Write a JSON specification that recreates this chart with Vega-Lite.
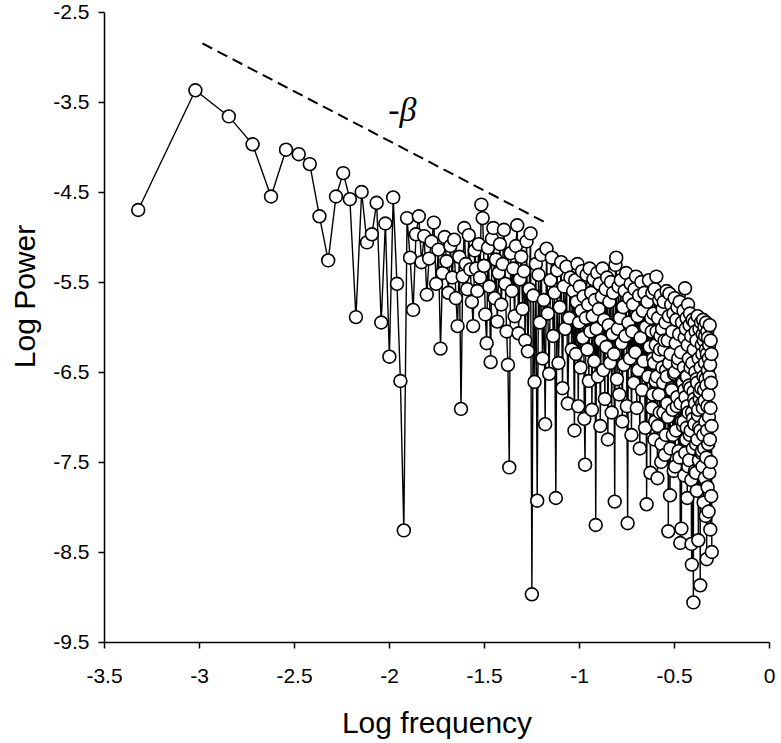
{
"$schema": "https://vega.github.io/schema/vega-lite/v6.json",
"width": 665, "height": 630,
"autosize": {"type": "none"},
"padding": {"left": 104, "top": 12, "right": 12, "bottom": 101},
"background": "white",
"config": {
 "view": {"stroke": null},
 "axis": {"domainColor": "black", "domainWidth": 1.5, "tickColor": "black", "tickWidth": 1.5, "tickSize": 6, "grid": false,
  "labelFont": "Liberation Sans", "labelFontSize": 21, "labelColor": "black", "labelFlush": false, "labelOverlap": false, "labelBound": false,
  "titleFont": "Liberation Sans", "titleFontSize": 30, "titleFontWeight": "normal", "titleColor": "black"}
},
"data": {"values": [
{"x":-3.320,"y":-4.70},{"x":-3.019,"y":-3.37},{"x":-2.843,"y":-3.66},{"x":-2.718,"y":-3.97},{"x":-2.621,"y":-4.55},
{"x":-2.542,"y":-4.03},{"x":-2.475,"y":-4.08},{"x":-2.417,"y":-4.19},{"x":-2.366,"y":-4.77},{"x":-2.320,"y":-5.26},
{"x":-2.279,"y":-4.55},{"x":-2.241,"y":-4.29},{"x":-2.206,"y":-4.58},{"x":-2.174,"y":-5.89},{"x":-2.144,"y":-4.50},
{"x":-2.116,"y":-5.06},{"x":-2.090,"y":-4.97},{"x":-2.065,"y":-4.62},{"x":-2.041,"y":-5.95},{"x":-2.019,"y":-4.85},
{"x":-1.998,"y":-6.33},{"x":-1.978,"y":-4.56},{"x":-1.958,"y":-5.52},{"x":-1.940,"y":-6.60},{"x":-1.922,"y":-8.26},
{"x":-1.905,"y":-4.79},{"x":-1.889,"y":-5.23},{"x":-1.873,"y":-5.81},{"x":-1.858,"y":-4.97},{"x":-1.843,"y":-4.77},
{"x":-1.829,"y":-5.28},{"x":-1.815,"y":-4.99},{"x":-1.801,"y":-5.64},{"x":-1.789,"y":-5.24},{"x":-1.776,"y":-5.05},
{"x":-1.764,"y":-4.84},{"x":-1.752,"y":-5.52},{"x":-1.740,"y":-5.14},{"x":-1.729,"y":-6.24},{"x":-1.718,"y":-5.40},
{"x":-1.707,"y":-5.00},{"x":-1.697,"y":-5.27},{"x":-1.687,"y":-5.62},{"x":-1.677,"y":-5.10},{"x":-1.667,"y":-5.45},
{"x":-1.657,"y":-5.03},{"x":-1.648,"y":-5.68},{"x":-1.639,"y":-5.99},{"x":-1.630,"y":-5.22},{"x":-1.621,"y":-6.91},
{"x":-1.612,"y":-5.44},{"x":-1.604,"y":-4.90},{"x":-1.596,"y":-5.30},{"x":-1.588,"y":-5.58},{"x":-1.580,"y":-4.98},
{"x":-1.572,"y":-5.36},{"x":-1.564,"y":-5.72},{"x":-1.557,"y":-5.99},{"x":-1.549,"y":-5.15},{"x":-1.542,"y":-5.35},
{"x":-1.535,"y":-5.60},{"x":-1.528,"y":-5.08},{"x":-1.521,"y":-5.45},{"x":-1.514,"y":-4.64},{"x":-1.507,"y":-4.79},
{"x":-1.500,"y":-5.32},{"x":-1.493,"y":-5.86},{"x":-1.486,"y":-6.18},{"x":-1.479,"y":-5.12},{"x":-1.472,"y":-5.55},
{"x":-1.465,"y":-6.39},{"x":-1.458,"y":-5.02},{"x":-1.451,"y":-4.90},{"x":-1.444,"y":-5.68},{"x":-1.437,"y":-5.25},
{"x":-1.430,"y":-5.94},{"x":-1.423,"y":-5.40},{"x":-1.416,"y":-5.08},{"x":-1.409,"y":-5.75},{"x":-1.402,"y":-5.30},
{"x":-1.395,"y":-4.92},{"x":-1.388,"y":-5.52},{"x":-1.381,"y":-6.05},{"x":-1.374,"y":-6.42},{"x":-1.367,"y":-7.56},
{"x":-1.360,"y":-5.18},{"x":-1.353,"y":-5.60},{"x":-1.346,"y":-5.35},{"x":-1.339,"y":-5.88},{"x":-1.332,"y":-5.10},
{"x":-1.325,"y":-4.87},{"x":-1.318,"y":-6.07},{"x":-1.311,"y":-5.47},{"x":-1.304,"y":-5.22},{"x":-1.297,"y":-5.80},
{"x":-1.290,"y":-5.38},{"x":-1.283,"y":-6.15},{"x":-1.276,"y":-5.05},{"x":-1.269,"y":-6.27},{"x":-1.262,"y":-5.58},
{"x":-1.255,"y":-4.96},{"x":-1.248,"y":-8.97},{"x":-1.241,"y":-5.65},{"x":-1.234,"y":-6.61},{"x":-1.227,"y":-5.30},
{"x":-1.220,"y":-7.93},{"x":-1.213,"y":-5.42},{"x":-1.206,"y":-5.95},{"x":-1.199,"y":-5.20},{"x":-1.192,"y":-6.35},
{"x":-1.185,"y":-5.70},{"x":-1.178,"y":-7.08},{"x":-1.171,"y":-5.13},{"x":-1.164,"y":-5.85},{"x":-1.157,"y":-6.52},
{"x":-1.150,"y":-5.48},{"x":-1.143,"y":-5.23},{"x":-1.136,"y":-6.10},{"x":-1.129,"y":-5.62},{"x":-1.122,"y":-7.90},
{"x":-1.115,"y":-5.37},{"x":-1.108,"y":-6.40},{"x":-1.101,"y":-5.78},{"x":-1.094,"y":-5.28},{"x":-1.087,"y":-6.68},
{"x":-1.080,"y":-5.55},{"x":-1.073,"y":-6.02},{"x":-1.066,"y":-5.33},{"x":-1.059,"y":-6.85},{"x":-1.052,"y":-5.90},
{"x":-1.045,"y":-5.45},{"x":-1.038,"y":-6.25},{"x":-1.031,"y":-5.60},{"x":-1.024,"y":-7.15},
{"x":-1.020,"y":-5.48},{"x":-1.016,"y":-6.30},{"x":-1.012,"y":-5.72},{"x":-1.008,"y":-5.30},{"x":-1.004,"y":-6.88},
{"x":-1.000,"y":-5.95},{"x":-0.996,"y":-5.55},{"x":-0.992,"y":-6.45},{"x":-0.988,"y":-5.82},{"x":-0.984,"y":-5.38},
{"x":-0.980,"y":-6.12},{"x":-0.976,"y":-5.66},{"x":-0.972,"y":-7.02},{"x":-0.968,"y":-7.53},{"x":-0.964,"y":-5.90},
{"x":-0.960,"y":-5.42},{"x":-0.956,"y":-6.25},{"x":-0.952,"y":-5.75},{"x":-0.948,"y":-6.60},{"x":-0.944,"y":-5.35},
{"x":-0.940,"y":-6.05},{"x":-0.936,"y":-5.62},{"x":-0.932,"y":-6.92},{"x":-0.928,"y":-5.88},{"x":-0.924,"y":-5.47},
{"x":-0.920,"y":-6.38},{"x":-0.916,"y":-5.70},{"x":-0.912,"y":-8.20},{"x":-0.908,"y":-6.02},{"x":-0.904,"y":-5.40},
{"x":-0.900,"y":-6.55},{"x":-0.896,"y":-5.80},{"x":-0.892,"y":-5.52},{"x":-0.888,"y":-7.10},{"x":-0.884,"y":-6.15},
{"x":-0.880,"y":-5.66},{"x":-0.876,"y":-5.35},{"x":-0.872,"y":-6.48},{"x":-0.868,"y":-5.92},{"x":-0.864,"y":-6.80},
{"x":-0.860,"y":-5.58},{"x":-0.856,"y":-6.22},{"x":-0.852,"y":-5.45},{"x":-0.848,"y":-7.25},{"x":-0.844,"y":-5.98},
{"x":-0.840,"y":-5.72},{"x":-0.836,"y":-6.40},{"x":-0.832,"y":-5.50},{"x":-0.828,"y":-6.95},{"x":-0.824,"y":-6.08},
{"x":-0.820,"y":-5.62},{"x":-0.816,"y":-6.30},{"x":-0.812,"y":-7.94},{"x":-0.808,"y":-5.31},{"x":-0.804,"y":-5.23},
{"x":-0.800,"y":-6.58},{"x":-0.796,"y":-6.02},{"x":-0.792,"y":-5.55},{"x":-0.788,"y":-6.75},{"x":-0.784,"y":-5.90},
{"x":-0.780,"y":-5.48},{"x":-0.776,"y":-6.18},{"x":-0.772,"y":-7.05},{"x":-0.768,"y":-5.78},{"x":-0.764,"y":-6.42},
{"x":-0.760,"y":-5.60},{"x":-0.756,"y":-6.10},{"x":-0.752,"y":-5.40},{"x":-0.748,"y":-6.88},{"x":-0.744,"y":-8.18},
{"x":-0.740,"y":-5.95},{"x":-0.736,"y":-5.68},{"x":-0.732,"y":-6.35},{"x":-0.728,"y":-5.52},{"x":-0.724,"y":-7.20},
{"x":-0.720,"y":-6.05},{"x":-0.716,"y":-5.75},{"x":-0.712,"y":-6.62},{"x":-0.708,"y":-5.58},{"x":-0.704,"y":-6.28},
{"x":-0.700,"y":-5.44},{"x":-0.696,"y":-6.90},{"x":-0.692,"y":-5.88},{"x":-0.688,"y":-6.48},{"x":-0.684,"y":-5.65},
{"x":-0.680,"y":-7.35},{"x":-0.676,"y":-6.12},{"x":-0.672,"y":-5.50},{"x":-0.668,"y":-6.70},{"x":-0.664,"y":-5.82},
{"x":-0.660,"y":-6.38},{"x":-0.656,"y":-5.62},{"x":-0.652,"y":-7.12},{"x":-0.648,"y":-6.00},{"x":-0.644,"y":-7.97},
{"x":-0.640,"y":-5.72},{"x":-0.636,"y":-6.55},{"x":-0.632,"y":-5.48},{"x":-0.628,"y":-6.22},{"x":-0.624,"y":-7.62},
{"x":-0.620,"y":-5.90},
{"x":-0.617,"y":-6.05},{"x":-0.6155,"y":-6.90},{"x":-0.614,"y":-5.62},{"x":-0.611,"y":-6.75},{"x":-0.6095,"y":-6.35},{"x":-0.608,"y":-5.85},{"x":-0.605,"y":-6.40},{"x":-0.6035,"y":-7.25},
{"x":-0.602,"y":-5.58},{"x":-0.599,"y":-7.05},{"x":-0.5975,"y":-6.60},{"x":-0.596,"y":-6.20},{"x":-0.593,"y":-5.44},{"x":-0.5915,"y":-6.05},{"x":-0.590,"y":-6.55},
{"x":-0.587,"y":-7.68},{"x":-0.5855,"y":-7.10},{"x":-0.584,"y":-5.90},{"x":-0.581,"y":-6.32},{"x":-0.5795,"y":-6.75},{"x":-0.578,"y":-5.70},{"x":-0.575,"y":-6.95},{"x":-0.5735,"y":-6.25},
{"x":-0.572,"y":-6.10},{"x":-0.569,"y":-5.65},{"x":-0.5675,"y":-7.50},{"x":-0.566,"y":-7.30},{"x":-0.563,"y":-6.02},{"x":-0.5615,"y":-6.45},{"x":-0.560,"y":-5.80},
{"x":-0.557,"y":-6.62},{"x":-0.5555,"y":-6.95},{"x":-0.554,"y":-5.72},{"x":-0.551,"y":-6.25},{"x":-0.5495,"y":-6.15},{"x":-0.548,"y":-7.42},{"x":-0.545,"y":-5.95},{"x":-0.5435,"y":-7.20},
{"x":-0.542,"y":-6.48},{"x":-0.539,"y":-5.60},{"x":-0.5375,"y":-6.55},{"x":-0.536,"y":-6.85},{"x":-0.533,"y":-6.15},{"x":-0.5315,"y":-7.00},{"x":-0.530,"y":-8.27},
{"x":-0.527,"y":-5.88},{"x":-0.5255,"y":-6.40},{"x":-0.524,"y":-5.63},{"x":-0.521,"y":-7.87},{"x":-0.5195,"y":-7.35},{"x":-0.518,"y":-6.30},{"x":-0.515,"y":-5.75},{"x":-0.5135,"y":-6.68},
{"x":-0.512,"y":-6.70},{"x":-0.509,"y":-6.05},{"x":-0.5075,"y":-6.92},{"x":-0.506,"y":-7.20},{"x":-0.503,"y":-5.85},{"x":-0.5015,"y":-7.60},{"x":-0.500,"y":-6.52},
{"x":-0.497,"y":-5.68},{"x":-0.4955,"y":-6.50},{"x":-0.494,"y":-7.55},{"x":-0.491,"y":-6.18},{"x":-0.4895,"y":-7.15},{"x":-0.488,"y":-5.92},{"x":-0.485,"y":-6.88},{"x":-0.4835,"y":-6.78},
{"x":-0.482,"y":-5.78},{"x":-0.479,"y":-6.40},{"x":-0.4775,"y":-6.35},{"x":-0.476,"y":-7.38},{"x":-0.473,"y":-6.08},{"x":-0.4715,"y":-7.45},{"x":-0.470,"y":-5.72},
{"x":-0.467,"y":-8.40},{"x":-0.4655,"y":-6.85},{"x":-0.464,"y":-6.28},{"x":-0.461,"y":-8.24},{"x":-0.4595,"y":-7.05},{"x":-0.458,"y":-5.95},{"x":-0.455,"y":-6.60},{"x":-0.4535,"y":-6.62},
{"x":-0.452,"y":-7.10},
{"x":-0.450,"y":-5.82},{"x":-0.449,"y":-7.05},{"x":-0.448,"y":-6.45},{"x":-0.446,"y":-7.65},{"x":-0.445,"y":-6.70},{"x":-0.444,"y":-6.12},{"x":-0.442,"y":-5.57},{"x":-0.441,"y":-7.40},
{"x":-0.440,"y":-6.78},{"x":-0.438,"y":-6.02},{"x":-0.437,"y":-6.55},{"x":-0.436,"y":-7.25},{"x":-0.434,"y":-5.90},{"x":-0.433,"y":-7.12},{"x":-0.432,"y":-6.55},
{"x":-0.430,"y":-7.90},{"x":-0.429,"y":-6.88},{"x":-0.428,"y":-6.20},{"x":-0.426,"y":-5.75},{"x":-0.425,"y":-7.55},{"x":-0.424,"y":-6.95},{"x":-0.422,"y":-6.35},{"x":-0.421,"y":-6.65},
{"x":-0.420,"y":-7.48},{"x":-0.418,"y":-5.98},{"x":-0.417,"y":-7.20},{"x":-0.416,"y":-5.85},{"x":-0.414,"y":-6.68},{"x":-0.413,"y":-6.45},{"x":-0.412,"y":-7.15},
{"x":-0.410,"y":-6.10},{"x":-0.409,"y":-7.70},{"x":-0.408,"y":-8.41},{"x":-0.406,"y":-8.64},{"x":-0.405,"y":-6.95},{"x":-0.404,"y":-6.40},{"x":-0.402,"y":-5.92},{"x":-0.401,"y":-7.35},
{"x":-0.400,"y":-7.02},{"x":-0.398,"y":-9.06},{"x":-0.397,"y":-6.72},{"x":-0.396,"y":-6.25},{"x":-0.394,"y":-6.80},{"x":-0.393,"y":-7.08},{"x":-0.392,"y":-5.95},
{"x":-0.390,"y":-7.60},{"x":-0.389,"y":-6.85},{"x":-0.388,"y":-6.50},{"x":-0.386,"y":-6.05},{"x":-0.385,"y":-7.62},{"x":-0.384,"y":-7.30},{"x":-0.382,"y":-6.15},{"x":-0.381,"y":-6.58},
{"x":-0.380,"y":-7.82},{"x":-0.378,"y":-6.62},{"x":-0.377,"y":-7.25},{"x":-0.376,"y":-5.88},{"x":-0.374,"y":-6.98},{"x":-0.373,"y":-6.92},{"x":-0.372,"y":-8.37},
{"x":-0.370,"y":-6.35},{"x":-0.369,"y":-7.48},{"x":-0.368,"y":-7.12},{"x":-0.366,"y":-6.02},{"x":-0.365,"y":-6.80},{"x":-0.364,"y":-6.72},{"x":-0.362,"y":-8.87},{"x":-0.361,"y":-7.15},
{"x":-0.360,"y":-6.45},{"x":-0.358,"y":-5.95},{"x":-0.357,"y":-6.68},{"x":-0.356,"y":-7.40},{"x":-0.354,"y":-6.20},{"x":-0.353,"y":-7.38},{"x":-0.352,"y":-6.85},
{"x":-0.351,"y":-6.30},{"x":-0.350,"y":-7.55},{"x":-0.349,"y":-6.08},{"x":-0.348,"y":-6.90},{"x":-0.347,"y":-5.92},
{"x":-0.346,"y":-7.20},{"x":-0.345,"y":-6.55},{"x":-0.344,"y":-7.95},{"x":-0.343,"y":-6.15},{"x":-0.342,"y":-6.70},
{"x":-0.341,"y":-7.35},{"x":-0.340,"y":-6.00},{"x":-0.339,"y":-6.82},{"x":-0.338,"y":-7.68},{"x":-0.337,"y":-6.40},
{"x":-0.336,"y":-6.10},{"x":-0.335,"y":-7.05},{"x":-0.334,"y":-6.58},{"x":-0.333,"y":-8.10},{"x":-0.332,"y":-6.25},
{"x":-0.331,"y":-5.95},{"x":-0.330,"y":-7.45},{"x":-0.329,"y":-6.65},{"x":-0.328,"y":-8.58},{"x":-0.327,"y":-6.30},
{"x":-0.326,"y":-7.15},{"x":-0.325,"y":-6.05},{"x":-0.324,"y":-6.88},{"x":-0.323,"y":-7.78},{"x":-0.322,"y":-6.48},
{"x":-0.321,"y":-6.12},{"x":-0.320,"y":-7.30},{"x":-0.319,"y":-6.75},{"x":-0.318,"y":-8.05},{"x":-0.317,"y":-6.35},
{"x":-0.316,"y":-7.00},{"x":-0.315,"y":-6.20},{"x":-0.314,"y":-7.62},{"x":-0.313,"y":-6.55},{"x":-0.312,"y":-5.98},
{"x":-0.311,"y":-7.25},{"x":-0.310,"y":-6.42},{"x":-0.309,"y":-8.25},{"x":-0.308,"y":-6.90},{"x":-0.307,"y":-6.15},
{"x":-0.306,"y":-7.50},{"x":-0.305,"y":-6.62},{"x":-0.304,"y":-7.88},{"x":-0.303,"y":-6.30},{"x":-0.302,"y":-7.10},
{"x":-0.301,"y":-8.50}
]},
"encoding": {
 "x": {"field": "x", "type": "quantitative",
  "scale": {"domain": [-3.5, 0], "nice": false, "zero": false},
  "axis": {"title": "Log frequency", "values": [-3.5, -3, -2.5, -2, -1.5, -1, -0.5, 0], "labelExpr": "'' + datum.value",
   "labelPadding": 17, "titleX": 332.5, "titleY": 90, "titleBaseline": "alphabetic", "titleAlign": "center"}},
 "y": {"field": "y", "type": "quantitative",
  "scale": {"domain": [-9.5, -2.5], "nice": false, "zero": false},
  "axis": {"title": "Log Power", "values": [-9.5, -8.5, -7.5, -6.5, -5.5, -4.5, -3.5, -2.5], "labelExpr": "'' + datum.value",
   "labelPadding": 9, "titleX": -70, "titleY": 284, "titleBaseline": "alphabetic", "titleAlign": "center", "titleAngle": -90}}
},
"layer": [
 {"data": {"values": [{"x": -2.982, "y": -2.849}, {"x": -1.165, "y": -4.852}]},
  "mark": {"type": "line", "color": "black", "strokeWidth": 2, "strokeDash": [11, 6]}},
 {"data": {"values": [{"x": -1.93, "y": -3.60, "t": "-β"}]},
  "mark": {"type": "text", "font": "Liberation Serif", "fontStyle": "italic", "fontSize": 34, "align": "center", "baseline": "middle", "color": "black"},
  "encoding": {"text": {"field": "t"}}},
 {"mark": {"type": "line", "color": "black", "strokeWidth": 1.4}},
 {"mark": {"type": "point", "shape": "circle", "filled": true, "fill": "white", "stroke": "black", "strokeWidth": 1.6, "size": 165, "opacity": 1}}
]
}
